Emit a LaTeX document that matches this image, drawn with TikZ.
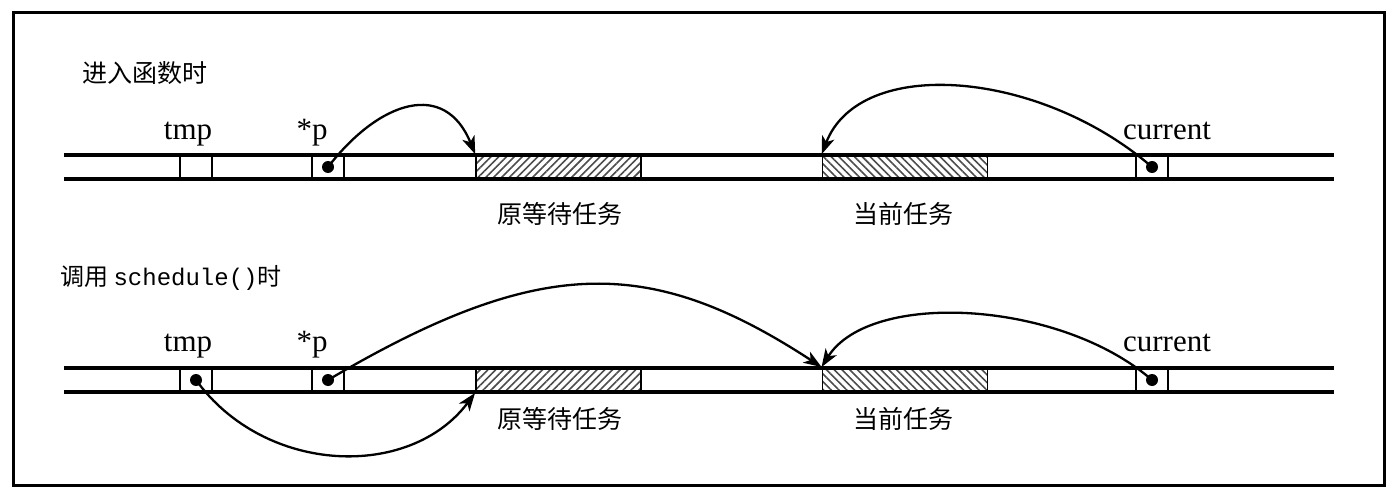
\documentclass[tikz,border=0pt]{standalone}
\usepackage{fontspec}
\setmainfont{Liberation Serif}
\setmonofont{Liberation Mono}
\newfontfamily\cjk{Noto Sans CJK SC}
\usepackage{tikz}
\usetikzlibrary{arrows.meta,patterns.meta}
\tikzset{
  >=Stealth,
  cell/.style={draw,line width=1.9pt,minimum width=32pt,minimum height=24pt,inner sep=0pt},
  task/.style={draw,line width=1.9pt,minimum width=165pt,minimum height=24pt,inner sep=0pt},
  oldtask/.style={task,pattern={Lines[angle=45,distance=5.5pt,line width=1.6pt]},pattern color=black!70},
  curtask/.style={task,pattern={Lines[angle=-45,distance=5.5pt,line width=1.6pt]},pattern color=black!70},
  dot/.style={circle,fill,inner sep=0pt,minimum size=12pt},
  var/.style={anchor=base,font=\fontsize{31}{31}\selectfont,inner sep=0pt},
  cn/.style={font=\cjk\fontsize{25}{25}\selectfont,inner sep=0pt},
  rail/.style={line width=4.2pt},
  ptr/.style={->,line width=2.3pt,>={Stealth[length=18pt,width=13pt,inset=5pt]}}
}

\begin{document}
\begin{tikzpicture}[x=1pt,y=-1pt]
\useasboundingbox (0,0) rectangle (1395,500);
\draw[line width=3pt] (13,13) rectangle (1384,485);

% on entry
\node[cn,anchor=west](enter)at(82,73){进入函数时};
\node[cell](tmpA)at(196,167){};
\node[cell](pA)at(328,167){};
\node[oldtask](oldA)at(558.5,167){};
\node[curtask](curA)at(905,167){};
\node[cell](cA)at(1152,167){};
\draw[rail](64,155)--(1334,155) (64,179)--(1334,179);
\node[dot](pdA)at(pA){};
\node[dot](cdA)at(cA){};
\node[var](tmpAl)at(188,140){tmp};
\node[var](pAl)at(312,140){*p};
\node[var](cAl)at(1167,140){current};
\node[cn](oldAl)at(560,214){原等待任务};
\node[cn](curAl)at(903,214){当前任务};
\draw[ptr](pdA.center) .. controls (380,100) and (445,80) .. (oldA.north west);
\draw[ptr](cdA.center) .. controls (1040,70) and (860,55) .. (curA.north west);

% calling schedule()
\node[anchor=west,inner sep=0pt](call)at(60,278){\cjk\fontsize{24}{24}\selectfont 调用 {\ttfamily\fontsize{24}{24}\selectfont schedule()}时};
\node[cell](tmpB)at(196,380){};
\node[cell](pB)at(328,380){};
\node[oldtask](oldB)at(558.5,380){};
\node[curtask](curB)at(905,380){};
\node[cell](cB)at(1152,380){};
\draw[rail](64,368)--(1334,368) (64,392)--(1334,392);
\node[dot](tdB)at(tmpB){};
\node[dot](pdB)at(pB){};
\node[dot](cdB)at(cB){};
\node[var](tmpBl)at(188,351){tmp};
\node[var](pBl)at(312,351){*p};
\node[var](cBl)at(1167,351){current};
\node[cn](oldBl)at(560,419){原等待任务};
\node[cn](curBl)at(903,419){当前任务};
\draw[ptr](pdB.center) .. controls (540,255) and (650,255) .. (curB.north west);
\draw[ptr](cdB.center) .. controls (1060,300) and (870,290) .. (curB.north west);
\draw[ptr](tdB.center) .. controls (265,475) and (410,480) .. (oldB.south west);
\end{tikzpicture}
\end{document}
